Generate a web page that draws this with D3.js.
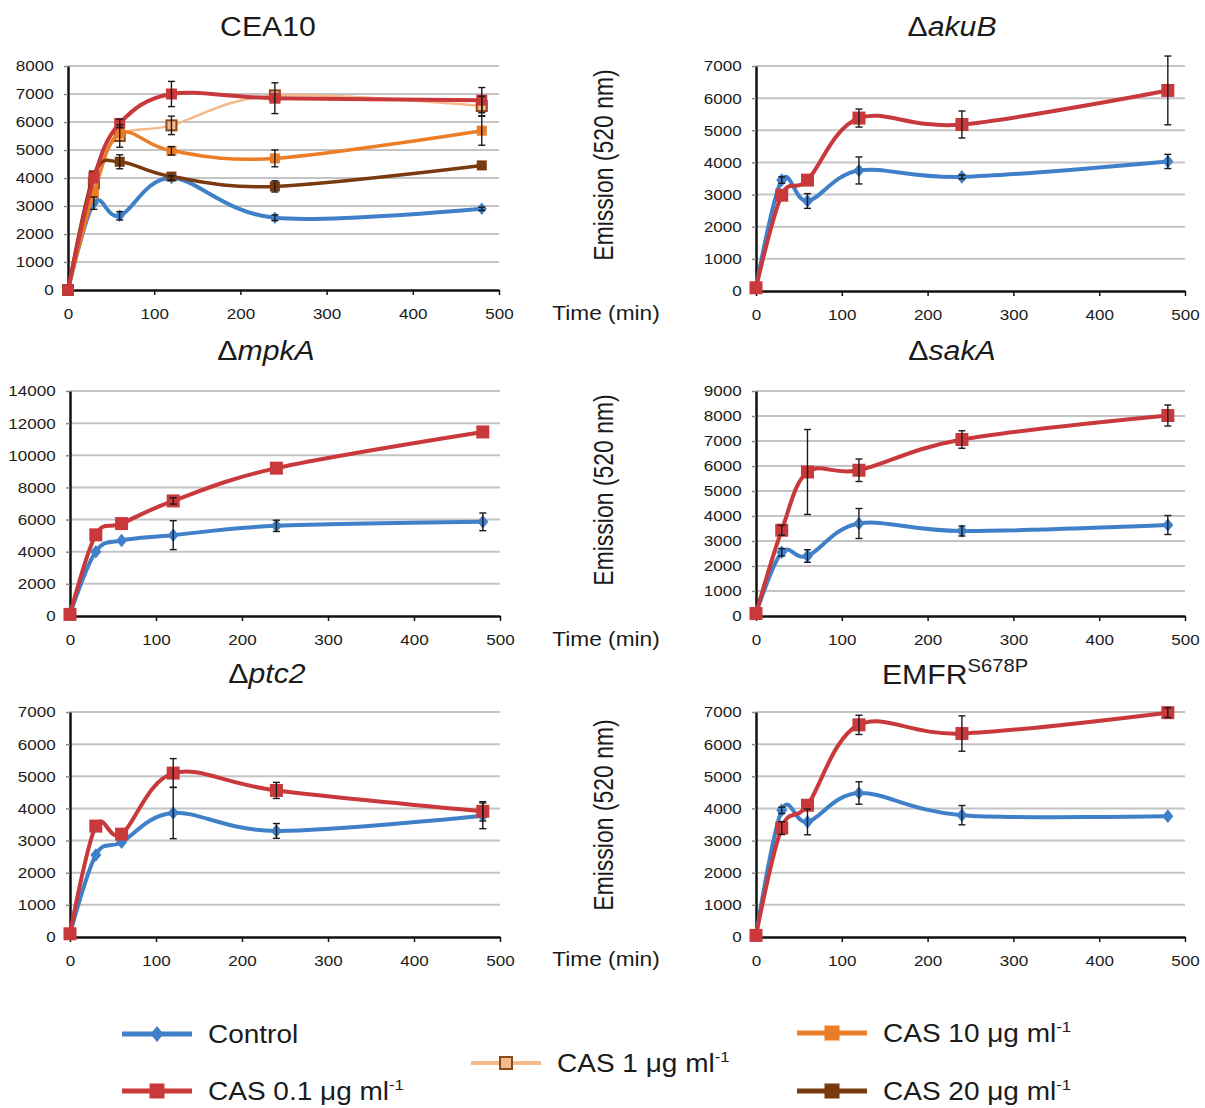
<!DOCTYPE html>
<html>
<head>
<meta charset="utf-8">
<script src="https://cdn.jsdelivr.net/npm/d3@7"></script>
<style>
  body { margin: 0; background: #fff; }
  svg { display: block; }
  text { font-family: "Liberation Sans", Arial, Helvetica, sans-serif; fill: #1b1b1b; }
</style>
</head>
<body>
<svg id="fig" width="1205" height="1108"></svg>
<script>
// Sampling times (min) and axis ticks
const times = [0, 30, 60, 120, 240, 480];
const xTicks = [0, 100, 200, 300, 400, 500];

// CEA10
const cea10Control    = [0, 3100, 2650, 4000, 2580, 2900];
const cea10ControlErr = [0, 220, 150, 80, 100, 60];
const cea10Cas01      = [0, 4000, 5950, 7000, 6850, 6780];
const cea10Cas01Err   = [0, 0, 150, 450, 550, 450];
const cea10Cas1       = [0, 3800, 5500, 5880, 6950, 6570];
const cea10Cas1Err    = [0, 0, 400, 330, 0, 350];
const cea10Cas10      = [0, 3450, 5600, 4970, 4700, 5690];
const cea10Cas10Err   = [0, 0, 0, 150, 300, 520];
const cea10Cas20      = [0, 4100, 4580, 4050, 3700, 4450];
const cea10Cas20Err   = [0, 0, 250, 0, 200, 0];

// ΔakuB
const akuBControl    = [100, 3450, 2800, 3750, 3550, 4030];
const akuBControlErr = [0, 100, 230, 420, 60, 220];
const akuBCas01      = [100, 2980, 3450, 5380, 5180, 6240];
const akuBCas01Err   = [0, 0, 0, 280, 420, 1070];

// ΔmpkA
const mpkAControl    = [100, 4000, 4700, 5030, 5610, 5860];
const mpkAControlErr = [0, 0, 0, 900, 350, 550];
const mpkACas01      = [100, 5050, 5750, 7160, 9200, 11450];
const mpkACas01Err   = [0, 0, 0, 200, 0, 0];

// ΔsakA
const sakAControl    = [100, 2550, 2400, 3700, 3400, 3640];
const sakAControlErr = [0, 150, 250, 600, 200, 380];
const sakACas01      = [100, 3430, 5760, 5830, 7060, 8020];
const sakACas01Err   = [0, 200, 1700, 450, 350, 420];

// Δptc2
const ptc2Control    = [100, 2550, 2950, 3860, 3300, 3770];
const ptc2ControlErr = [0, 0, 0, 800, 230, 400];
const ptc2Cas01      = [100, 3450, 3200, 5100, 4560, 3910];
const ptc2Cas01Err   = [0, 0, 0, 450, 250, 300];

// EMFR S678P
const emfrControl    = [50, 3940, 3580, 4480, 3790, 3760];
const emfrControlErr = [0, 100, 400, 350, 300, 0];
const emfrCas01      = [50, 3390, 4100, 6600, 6330, 6980];
const emfrCas01Err   = [0, 200, 0, 300, 550, 150];

// Series styling
const styles = {
  control: { color: "#3f80c9", width: 4, marker: "diamond", size: 11 },
  cas01:   { color: "#c9383b", width: 4, marker: "square", size: 13 },
  cas1:    { color: "#f6b98c", width: 2.5, marker: "open", size: 10, stroke: "#8a4a1c" },
  cas10:   { color: "#eb7d27", width: 3.5, marker: "square", size: 11 },
  cas20:   { color: "#7a3a10", width: 3.5, marker: "square", size: 11 }
};

const svg = d3.select("#fig");
const curve = d3.curveCardinal.tension(0);

function series(key, values, errs, sizeOverride) {
  return { key, rows: times.map((t, i) => ({ t, v: values[i], e: errs[i] })), size: sizeOverride };
}

const panels = [
  { label: "CEA10", x0: 68, x1: 499, yTop: 66, yBot: 290, yMax: 8000, step: 1000, tx: 268, ty: 36,
    series: [
      series("control", cea10Control, cea10ControlErr, 10),
      series("cas1", cea10Cas1, cea10Cas1Err, 10),
      series("cas10", cea10Cas10, cea10Cas10Err, 10),
      series("cas20", cea10Cas20, cea10Cas20Err, 10),
      series("cas01", cea10Cas01, cea10Cas01Err, 11)
    ] },
  { italic: "akuB", x0: 756, x1: 1185, yTop: 66, yBot: 291, yMax: 7000, step: 1000, tx: 952, ty: 36,
    series: [series("control", akuBControl, akuBControlErr), series("cas01", akuBCas01, akuBCas01Err)] },
  { italic: "mpkA", x0: 70, x1: 500, yTop: 391, yBot: 616, yMax: 14000, step: 2000, tx: 266, ty: 360,
    series: [series("control", mpkAControl, mpkAControlErr), series("cas01", mpkACas01, mpkACas01Err)] },
  { italic: "sakA", x0: 756, x1: 1185, yTop: 391, yBot: 616, yMax: 9000, step: 1000, tx: 952, ty: 360,
    series: [series("control", sakAControl, sakAControlErr), series("cas01", sakACas01, sakACas01Err)] },
  { italic: "ptc2", x0: 70, x1: 500, yTop: 712, yBot: 937, yMax: 7000, step: 1000, tx: 267, ty: 683,
    series: [series("control", ptc2Control, ptc2ControlErr), series("cas01", ptc2Cas01, ptc2Cas01Err)] },
  { label: "EMFR", sup: "S678P", x0: 756, x1: 1185, yTop: 712, yBot: 937, yMax: 7000, step: 1000, tx: 955, ty: 684,
    series: [series("control", emfrControl, emfrControlErr), series("cas01", emfrCas01, emfrCas01Err)] }
];

function drawMarker(sel, st, size, cx, cy) {
  if (st.marker === "diamond") {
    const w = size * 0.5, h = size * 0.62;
    sel.append("path")
      .attr("d", `M${cx},${cy - h}L${cx + w},${cy}L${cx},${cy + h}L${cx - w},${cy}Z`)
      .attr("fill", st.color);
  } else if (st.marker === "open") {
    sel.append("rect")
      .attr("x", cx - size / 2).attr("y", cy - size / 2)
      .attr("width", size).attr("height", size)
      .attr("fill", st.color).attr("stroke", st.stroke).attr("stroke-width", 2);
  } else {
    sel.append("rect")
      .attr("x", cx - size / 2).attr("y", cy - size / 2)
      .attr("width", size).attr("height", size)
      .attr("fill", st.color);
  }
}

const fmt = d3.format("d");

panels.forEach(p => {
  const g = svg.append("g");
  const x = d3.scaleLinear().domain([0, 500]).range([p.x0, p.x1]);
  const y = d3.scaleLinear().domain([0, p.yMax]).range([p.yBot, p.yTop]);
  const yTicks = d3.range(0, p.yMax + 1, p.step);

  // horizontal gridlines
  g.append("g").selectAll("line").data(yTicks.slice(1)).join("line")
    .attr("x1", x(0)).attr("x2", x(500))
    .attr("y1", d => y(d)).attr("y2", d => y(d))
    .attr("stroke", "#c4c4c4").attr("stroke-width", 2);

  // y axis
  const ya = g.append("g").attr("transform", `translate(${x(0)},0)`)
    .call(d3.axisLeft(y).tickValues(yTicks).tickFormat(fmt).tickSize(4).tickSizeOuter(0).tickPadding(9));
  ya.select(".domain").attr("stroke", "#111").attr("stroke-width", 2.5);
  ya.selectAll(".tick line").attr("stroke", "#888").attr("stroke-width", 1.5);
  ya.selectAll(".tick text").attr("font-size", 15.5).attr("font-family", null)
    .attr("fill", "#2a2a2a").attr("transform", "scale(1.1,1)");

  // x axis
  const xa = g.append("g").attr("transform", `translate(0,${y(0)})`)
    .call(d3.axisBottom(x).tickValues(xTicks).tickFormat(fmt).tickSize(5).tickSizeOuter(0).tickPadding(13));
  xa.select(".domain").attr("stroke", "#111").attr("stroke-width", 2.5);
  xa.selectAll(".tick line").attr("stroke", "#111").attr("stroke-width", 1.5);
  xa.selectAll(".tick text").attr("font-size", 15.5).attr("font-family", null)
    .attr("fill", "#2a2a2a").attr("transform", "scale(1.1,1)");

  const line = d3.line().x(d => x(d.t)).y(d => y(d.v)).curve(curve);

  // series: smoothed line, then markers
  p.series.forEach(s => {
    const st = styles[s.key];
    const size = s.size || st.size;
    g.append("path").datum(s.rows)
      .attr("d", line).attr("fill", "none")
      .attr("stroke", st.color).attr("stroke-width", st.width)
      .attr("stroke-linejoin", "round");
    const mg = g.append("g");
    s.rows.forEach(d => drawMarker(mg, st, size, x(d.t), y(d.v)));
  });

  // error bars (± SD) on top
  const eg = g.append("g").attr("stroke", "#1a1a1a").attr("stroke-width", 1.4);
  p.series.forEach(s => {
    s.rows.filter(d => d.e > 0).forEach(d => {
      const cx = x(d.t), ylo = y(d.v - d.e), yhi = y(d.v + d.e);
      eg.append("line").attr("x1", cx).attr("x2", cx).attr("y1", ylo).attr("y2", yhi);
      eg.append("line").attr("x1", cx - 3.5).attr("x2", cx + 3.5).attr("y1", ylo).attr("y2", ylo);
      eg.append("line").attr("x1", cx - 3.5).attr("x2", cx + 3.5).attr("y1", yhi).attr("y2", yhi);
    });
  });

  // panel title
  const t = g.append("text")
    .attr("transform", `translate(${p.tx},${p.ty}) scale(1.12,1)`)
    .attr("text-anchor", "middle").attr("font-size", 27);
  if (p.italic) {
    t.append("tspan").text("Δ");
    t.append("tspan").attr("font-style", "italic").text(p.italic);
  } else {
    t.append("tspan").text(p.label);
    if (p.sup) t.append("tspan").attr("font-size", 18).attr("dy", -12).text(p.sup);
  }
});

// shared axis titles between the two columns
const rows = [
  { mid: 165, time: 320 },
  { mid: 490, time: 646 },
  { mid: 815, time: 966 }
];
rows.forEach(r => {
  svg.append("text")
    .attr("transform", `translate(613,${r.mid}) rotate(-90) scale(0.82,1)`)
    .attr("text-anchor", "middle").attr("font-size", 28)
    .text("Emission (520 nm)");
  svg.append("text")
    .attr("transform", `translate(606,${r.time}) scale(1.08,1)`)
    .attr("text-anchor", "middle").attr("font-size", 21)
    .text("Time (min)");
});

// legend
const legendItems = [
  { key: "control", x: 122, y: 1034, text: "Control", unit: false },
  { key: "cas01",   x: 122, y: 1091, text: "CAS 0.1 μg ml", unit: true },
  { key: "cas1",    x: 471, y: 1063, text: "CAS 1 μg ml", unit: true },
  { key: "cas10",   x: 797, y: 1033, text: "CAS 10 μg ml", unit: true },
  { key: "cas20",   x: 797, y: 1091, text: "CAS 20 μg ml", unit: true }
];
const lg = svg.append("g");
legendItems.forEach(it => {
  const st = styles[it.key];
  lg.append("line")
    .attr("x1", it.x).attr("x2", it.x + 70).attr("y1", it.y).attr("y2", it.y)
    .attr("stroke", st.color).attr("stroke-width", it.key === "cas1" ? 4 : 5);
  const lsize = it.key === "control" ? 13 : (it.key === "cas1" ? 12 : 15);
  drawMarker(lg, st, lsize, it.x + 35, it.y);
  const tx = lg.append("text")
    .attr("transform", `translate(${it.x + 86},${it.y + 9}) scale(1.12,1)`)
    .attr("font-size", 25);
  tx.append("tspan").text(it.text);
  if (it.unit) tx.append("tspan").attr("font-size", 15).attr("dy", -10).text("-1");
});
</script>
</body>
</html>
